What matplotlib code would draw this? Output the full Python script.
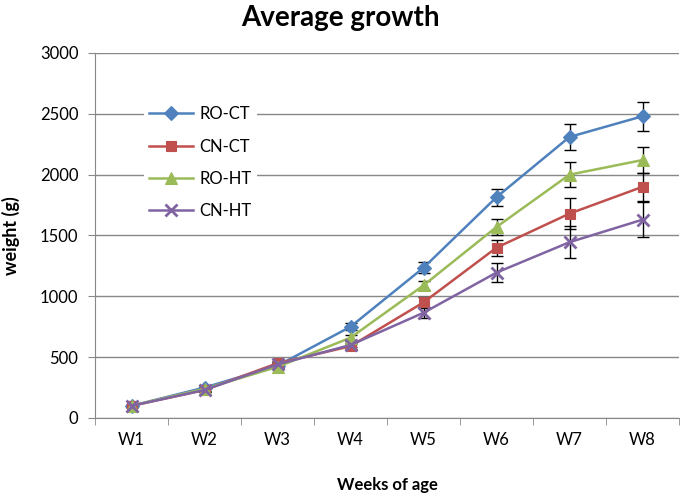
import matplotlib
matplotlib.use("Agg")
import matplotlib.pyplot as plt
import numpy as np

plt.rcParams['font.family'] = ['Lato', 'DejaVu Sans']

weeks = ["W1", "W2", "W3", "W4", "W5", "W6", "W7", "W8"]
ro_ct = [100, 250, 430, 750, 1235, 1815, 2310, 2480]
ro_ct_err = [10, 15, 20, 30, 45, 70, 110, 118]
cn_ct = [100, 230, 450, 590, 950, 1400, 1680, 1900]
cn_ct_err = [10, 15, 20, 20, 45, 65, 125, 115]
ro_ht = [100, 240, 420, 660, 1090, 1570, 2000, 2120]
ro_ht_err = [10, 15, 20, 25, 40, 65, 103, 110]
cn_ht = [100, 230, 440, 600, 865, 1195, 1445, 1630]
cn_ht_err = [10, 15, 20, 20, 45, 78, 130, 145]

series = [
    ("RO-CT", ro_ct, ro_ct_err, "#4F81BD", "D", 7),
    ("CN-CT", cn_ct, cn_ct_err, "#C0504D", "s", 7.5),
    ("RO-HT", ro_ht, ro_ht_err, "#9BBB59", "^", 8.5),
    ("CN-HT", cn_ht, cn_ht_err, "#8064A2", "x", 8),
]

W, H = 681, 497
fig = plt.figure(figsize=(W / 100, H / 100), dpi=100)
ax = fig.add_axes([95 / W, (H - 418) / H, (679 - 95) / W, (418 - 53) / H])
x = np.arange(len(weeks))
for name, vals, err, col, mk, ms in series:
    ax.errorbar(x, vals, yerr=err, fmt='none', ecolor='black', elinewidth=1.0,
                capsize=4, capthick=1.0, zorder=2)
    ax.plot(x, vals, color=col, marker=mk, markersize=ms, linewidth=1.8,
            markeredgewidth=2 if mk == 'x' else 0.8, markeredgecolor=col,
            label=name, zorder=3)

ax.set_xlim(-0.5, len(weeks) - 0.5)
ax.set_ylim(0, 3000)
ax.set_yticks(np.arange(0, 3001, 500))
ax.set_xticks(x)
ax.set_xticklabels(weeks)
ax.set_xticks(np.arange(-0.5, len(weeks)), minor=True)
ax.tick_params(axis='x', which='major', length=0, labelsize=12, pad=10)
ax.tick_params(axis='x', which='minor', length=5, color='#888888')
ax.tick_params(axis='y', length=5, color='#888888', labelsize=12, pad=7)
ax.yaxis.grid(True, color='#888888', linewidth=1)
ax.set_axisbelow(True)
for s in ['top', 'right']:
    ax.spines[s].set_visible(False)
for s in ['left', 'bottom']:
    ax.spines[s].set_color('#888888')

ax.set_ylabel("weight (g)", fontsize=13, fontweight='bold')
ax.yaxis.set_label_coords((20 - 95) / (679 - 95), 0.5)
ax.set_xlabel("Weeks of age", fontsize=12, fontweight='bold')
ax.xaxis.set_label_coords(0.5, -(477 - 418) / (418 - 53))
fig.suptitle("Average growth", fontsize=20, fontweight='bold', y=0.99)

leg = fig.legend(loc='upper left', bbox_to_anchor=(136 / W, (H - 93) / H), frameon=True,
                 edgecolor='none', facecolor='white', framealpha=1,
                 fontsize=12, labelspacing=0.98, handlelength=2.6, handletextpad=0.4,
                 borderpad=0.3)

fig.savefig("out.png", dpi=100)
